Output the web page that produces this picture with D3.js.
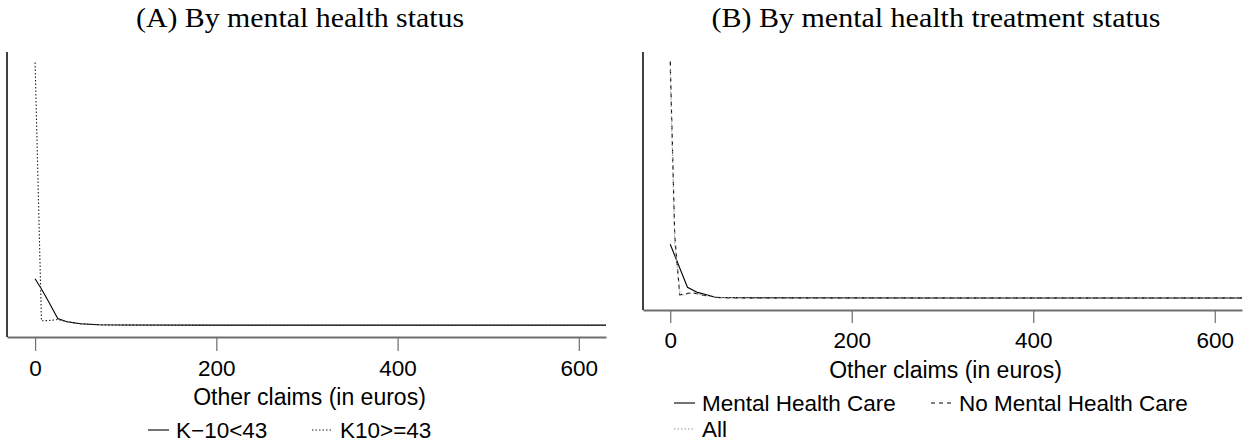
<!DOCTYPE html>
<html>
<head>
<meta charset="utf-8">
<script src="https://cdn.jsdelivr.net/npm/d3@7"></script>
<style>
  body { margin: 0; background: #fff; }
  svg { display: block; }
</style>
</head>
<body>
<svg id="chart" width="1247" height="446"></svg>
<script>
// x values (euros) and density estimates
var xsA = [0, 7, 15, 25, 35, 50, 70, 100, 200, 400, 630];
var k10Low = [0.0145, 0.0114, 0.0075, 0.0024, 0.0014, 0.0008, 0.0005, 0.00045, 0.0004, 0.0004, 0.0004];
var xsAHigh = [0, 7, 15, 25, 35, 50, 70, 100, 200, 400, 630];
var k10High = [0.0802, 0.0017, 0.0018, 0.0021, 0.0015, 0.0008, 0.0005, 0.0004, 0.0003, 0.0003, 0.0003];

var xsB_mhc = [0, 19, 30, 51, 100, 300, 630];
var mhc = [0.0188, 0.0044, 0.0027, 0.0010, 0.0009, 0.0008, 0.0008];
var xsB_no = [0, 5, 10.5, 18, 25, 35, 55, 100, 300, 630];
var noMhc = [0.0800, 0.0215, 0.0019, 0.0023, 0.0026, 0.0018, 0.0009, 0.0008, 0.0008, 0.0008];
var xsB_all = [0, 5, 11, 25, 40, 60, 100, 300, 630];
var allCare = [0.0770, 0.0190, 0.0017, 0.0025, 0.0016, 0.0009, 0.0008, 0.0008, 0.0008];

var xTicks = [0, 200, 400, 600];
var xLabel = "Other claims (in euros)";

var svg = d3.select("#chart");

function zip(xs, ys) {
  return xs.map(function(x, i) { return {x: x, y: ys[i]}; });
}

function drawPanel(opt) {
  var g = svg.append("g");
  var x = d3.scaleLinear().domain(opt.xDomain).range([opt.left, opt.right]);
  var ymax = d3.max(opt.series, function(s) { return d3.max(s.values, function(d) { return d.y; }); });
  var pad = ymax * 0.04;
  var y = d3.scaleLinear().domain([-pad, ymax + pad]).range([opt.bottom, opt.top]);

  // title
  g.append("text")
    .attr("x", opt.titleX).attr("y", 18)
    .attr("dy", "0.35em")
    .attr("text-anchor", "middle")
    .attr("textLength", opt.titleW)
    .attr("lengthAdjust", "spacingAndGlyphs")
    .style("font-family", "'Liberation Serif', 'Times New Roman', serif")
    .style("font-size", "27px")
    .text(opt.title);

  var clipId = "clip" + opt.id;
  svg.append("clipPath").attr("id", clipId)
    .append("rect")
    .attr("x", opt.left).attr("y", opt.top - 2)
    .attr("width", opt.right - opt.left).attr("height", opt.bottom - opt.top + 2);

  var line = d3.line().x(function(d) { return x(d.x); }).y(function(d) { return y(d.y); });

  g.append("g").attr("clip-path", "url(#" + clipId + ")")
    .selectAll("path")
    .data(opt.series)
    .join("path")
    .attr("d", function(s) { return line(s.values); })
    .attr("fill", "none")
    .attr("stroke", function(s) { return s.color; })
    .attr("stroke-width", 1.1)
    .attr("stroke-dasharray", function(s) { return s.dash; });

  // x axis
  var xAxis = g.append("g")
    .attr("transform", "translate(0," + opt.bottom + ")")
    .call(d3.axisBottom(x).tickValues(xTicks).tickSize(opt.tickLen).tickPadding(9).tickSizeOuter(0));
  xAxis.select(".domain").attr("stroke", "#6e6e6e").attr("stroke-width", 2);
  xAxis.selectAll(".tick line").attr("stroke", "#6e6e6e").attr("stroke-width", 1.2);
  xAxis.selectAll(".tick text")
    .style("font-family", "'Liberation Sans', Arial, sans-serif")
    .style("font-size", "22.5px")
    .attr("fill", "#000");

  // y axis line only
  g.append("line")
    .attr("x1", opt.left).attr("x2", opt.left)
    .attr("y1", opt.top).attr("y2", opt.bottom)
    .attr("stroke", "#000").attr("stroke-width", 1.5);

  g.append("text")
    .attr("x", (opt.left + opt.right) / 2 + 3)
    .attr("y", opt.bottom + 60)
    .attr("dy", "0.35em")
    .attr("text-anchor", "middle")
    .style("font-family", "'Liberation Sans', Arial, sans-serif")
    .style("font-size", "23px")
    .text(xLabel);

  // legend
  opt.series.forEach(function(s) {
    var lg = g.append("g");
    lg.append("line")
      .attr("x1", s.lx).attr("x2", s.lx + 21)
      .attr("y1", s.ly).attr("y2", s.ly)
      .attr("stroke", s.color).attr("stroke-width", 1.1)
      .attr("stroke-dasharray", s.dash);
    lg.append("text")
      .attr("x", s.lx + 28).attr("y", s.ly)
      .attr("dy", "0.35em")
      .style("font-family", "'Liberation Sans', Arial, sans-serif")
      .style("font-size", "22.5px")
      .text(s.name);
  });
}

drawPanel({
  id: "A",
  title: "(A) By mental health status",
  titleX: 300, titleW: 328,
  left: 7, right: 606, top: 52, bottom: 337, tickLen: 14,
  xDomain: [-31, 630],
  series: [
    {name: "K\u221210<43", values: zip(xsA, k10Low), color: "#000", dash: null, lx: 148, ly: 430},
    {name: "K10>=43", values: zip(xsAHigh, k10High), color: "#222", dash: "1.5,2", lx: 312, ly: 430}
  ]
});

drawPanel({
  id: "B",
  title: "(B) By mental health treatment status",
  titleX: 936, titleW: 449,
  left: 643, right: 1242, top: 52, bottom: 310, tickLen: 13,
  xDomain: [-30, 630],
  series: [
    {name: "Mental Health Care", values: zip(xsB_mhc, mhc), color: "#000", dash: null, lx: 674, ly: 403},
    {name: "No Mental Health Care", values: zip(xsB_no, noMhc), color: "#000", dash: "4,4", lx: 931, ly: 403},
    {name: "All", values: zip(xsB_all, allCare), color: "#9a9a9a", dash: "1.5,2", lx: 674, ly: 429}
  ]
});
</script>
</body>
</html>
